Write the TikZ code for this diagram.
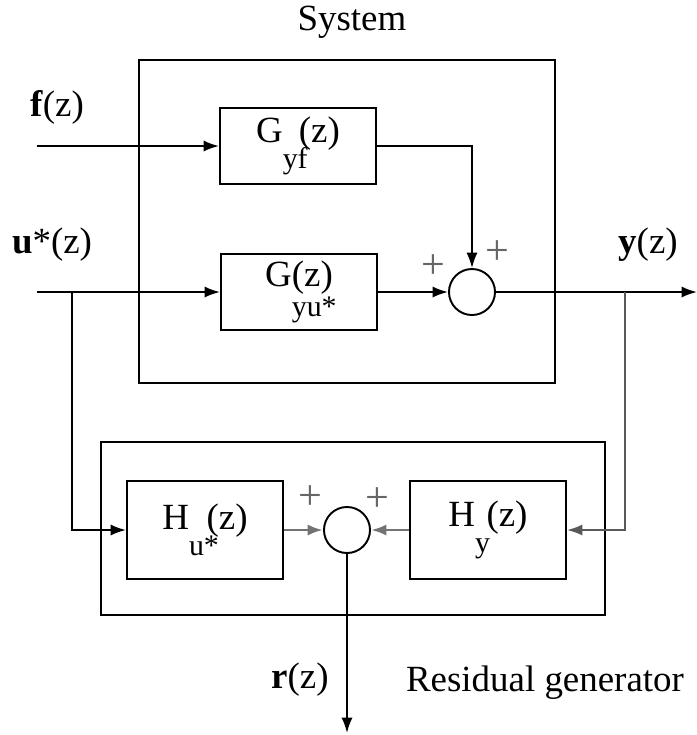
\documentclass[tikz,border=0pt]{standalone}
\usepackage{fontspec}
\setmainfont{Liberation Serif}
\usetikzlibrary{arrows.meta}
\newcommand{\lowsub}[1]{\raisebox{-1.5ex}{\fontsize{8.5}{9}\selectfont #1}}
\tikzset{
    every node/.style={font=\fontsize{10.5}{12}\selectfont},
    blk/.style={draw, minimum width=1.56cm, minimum height=0.76cm, inner sep=0pt},
    sumc/.style={draw, circle, minimum size=0.46cm, inner sep=0pt},
    sig/.style={-{Latex[length=4.4pt,width=3.2pt]}},
    pls/.style={text=black!60, font=\fontsize{12}{12}\selectfont}
}
\begin{document}
\begin{tikzpicture}[x=0.01cm, y=-0.01cm, line width=0.55pt]
    \useasboundingbox (0,0) rectangle (697,735);
    % system
    \node[draw, minimum width=4.16cm, minimum height=3.23cm] (sys) at (347,221.5) {};
    \node (systxt) at (352,22) {System};
    \node[blk] (gyf) at (298,146) {G\lowsub{yf}\kern-2.5pt(z)};
    \node[blk] (gyu) at (299,292) {G\rlap{\raisebox{-0.3ex}{\lowsub{yu*}}}(z)};
    \node[sumc] (s1) at (472,292) {};
    \coordinate (fin) at (37,146);
    \coordinate (uin) at (37,292);
    \coordinate (ub) at (72,292);
    \coordinate (yb) at (625,292);
    \coordinate (yout) at (697,292);
    
    \draw[sig] (fin) -- (gyf);
    \draw[sig] (uin) -- (gyu);
    \draw[sig] (gyf.east) -| (s1.north);
    \draw[sig] (gyu) -- (s1);
    \draw[sig] (s1) -- (yout);
    
    \node (flab) at (57,107) {\textbf{f}(z)};
    \node (ulab) at (52,245) {\textbf{u}*(z)};
    \node (ylab) at (648,245) {\textbf{y}(z)};
    \node[pls] (p1) at (433,267) {+};
    \node[pls] (p2) at (497,253) {+};
    
    % residual generator
    \node[draw, minimum width=5.04cm, minimum height=1.73cm] (res) at (353,528.5) {};
    \node[blk, minimum height=0.98cm] (hu) at (205,530) {H\rlap{\lowsub{u*}}\kern5pt(z)};
    \node[blk, minimum height=0.98cm] (hy) at (488,530) {H\lowsub{y}\kern-1pt(z)};
    \node[sumc] (s2) at (347,530) {};
    \coordinate (rout) at (347,733);
    
    \draw[sig] (ub) |- (hu.west);
    \draw[sig, black!65] (yb) |- (hy.east);
    \draw[sig, black!55, line width=0.8pt] (hu) -- (s2);
    \draw[sig, black!55, line width=0.8pt] (hy) -- (s2);
    \draw[sig] (s2) -- (rout);
    
    \node (rlab) at (300,680) {\textbf{r}(z)};
    \node (reslab) at (545,683) {Residual generator};
    \node[pls] (p3) at (310,498) {+};
    \node[pls] (p4) at (377,500) {+};
\end{tikzpicture}
\end{document}
